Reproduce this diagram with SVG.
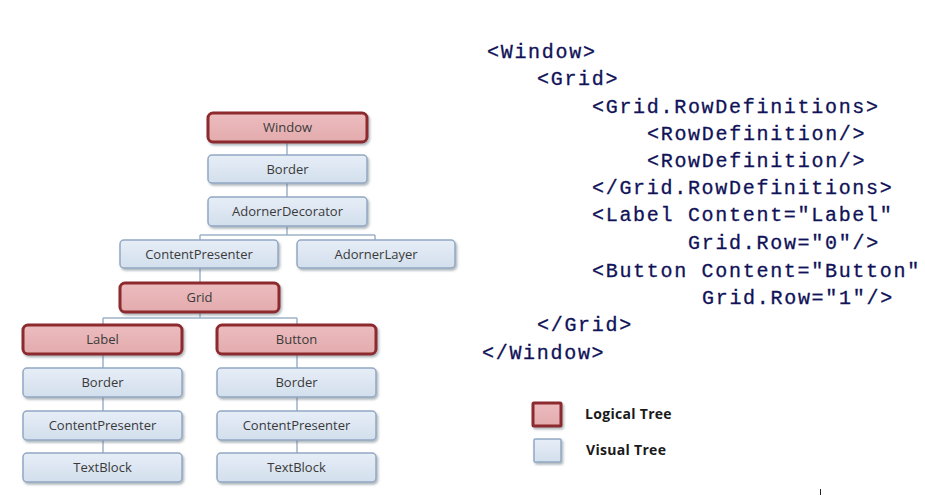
<svg xmlns="http://www.w3.org/2000/svg" width="925" height="495" viewBox="0 0 925 495">
<defs>
<linearGradient id="gv" x1="0" y1="0" x2="0" y2="1">
<stop offset="0" stop-color="#e6edf7"/>
<stop offset="1" stop-color="#d3dfed"/>
</linearGradient>
<linearGradient id="gl" x1="0" y1="0" x2="0" y2="1">
<stop offset="0" stop-color="#ecbcbe"/>
<stop offset="1" stop-color="#e3abae"/>
</linearGradient>
<filter id="sh" x="-10%" y="-20%" width="125%" height="150%">
<feDropShadow dx="1.5" dy="2" stdDeviation="1" flood-color="#506070" flood-opacity="0.45"/>
</filter>
</defs>
<style>
.v{fill:url(#gv);stroke:#93a8c3;stroke-width:1.5;filter:url(#sh)}
.l{fill:url(#gl);stroke:#8c292d;stroke-width:3;filter:url(#sh)}
.t{font-family:"Open Sans","Liberation Sans",sans-serif;font-size:13px;fill:#3a3a3a;text-anchor:middle}
.c{fill:none;stroke:#9fb2c8;stroke-width:1.5}
.code{font-family:"Liberation Mono","DejaVu Sans Mono",monospace;font-size:20px;letter-spacing:1.7px;fill:#101258;stroke:#101258;stroke-width:0.3}
.lg{font-family:"Open Sans","Liberation Sans",sans-serif;font-size:14px;font-weight:bold;letter-spacing:0.3px;fill:#1a1a1a}
</style>
<rect width="925" height="495" fill="#ffffff"/>
<g id="connectors">
<path class="c" d="M287 142V155M287 183V197M287 227V235M200 235H375M200 235V240M375 235V240M200 268V282M200 312V318M103 318H297M103 318V324M297 318V324M103 355V368M103 397V411M103 440V453M297 355V368M297 397V411M297 440V453"/>
</g>
<g id="n-window"><rect class="l" x="208" y="113" width="159" height="29" rx="5"/><text class="t" x="287.5" y="132">Window</text></g>
<g id="n-border"><rect class="v" x="208" y="155" width="159" height="28" rx="4"/><text class="t" x="287.5" y="173.5">Border</text></g>
<g id="n-adornerdecorator"><rect class="v" x="208" y="197" width="159" height="29" rx="4"/><text class="t" x="287.5" y="216">AdornerDecorator</text></g>
<g id="n-contentpresenter"><rect class="v" x="120" y="240" width="158" height="28" rx="4"/><text class="t" x="199" y="258.5">ContentPresenter</text></g>
<g id="n-adornerlayer"><rect class="v" x="297" y="240" width="158" height="28" rx="4"/><text class="t" x="376" y="258.5">AdornerLayer</text></g>
<g id="n-grid"><rect class="l" x="120" y="283" width="159" height="29" rx="5"/><text class="t" x="199.5" y="302">Grid</text></g>
<g id="n-label"><rect class="l" x="23" y="325" width="159" height="29" rx="5"/><text class="t" x="102.5" y="344">Label</text></g>
<g id="n-button"><rect class="l" x="217" y="325" width="159" height="29" rx="5"/><text class="t" x="296.5" y="344">Button</text></g>
<g id="n-border-l"><rect class="v" x="23" y="368" width="159" height="29" rx="4"/><text class="t" x="102.5" y="387">Border</text></g>
<g id="n-border-r"><rect class="v" x="217" y="368" width="159" height="29" rx="4"/><text class="t" x="296.5" y="387">Border</text></g>
<g id="n-cp-l"><rect class="v" x="23" y="411" width="159" height="29" rx="4"/><text class="t" x="102.5" y="430">ContentPresenter</text></g>
<g id="n-cp-r"><rect class="v" x="217" y="411" width="159" height="29" rx="4"/><text class="t" x="296.5" y="430">ContentPresenter</text></g>
<g id="n-tb-l"><rect class="v" x="23" y="453" width="159" height="29" rx="4"/><text class="t" x="102.5" y="472">TextBlock</text></g>
<g id="n-tb-r"><rect class="v" x="217" y="453" width="159" height="29" rx="4"/><text class="t" x="296.5" y="472">TextBlock</text></g>
<g id="code">
<text class="code" x="487" y="58">&lt;Window&gt;</text>
<text class="code" x="537" y="85">&lt;Grid&gt;</text>
<text class="code" x="592" y="113">&lt;Grid.RowDefinitions&gt;</text>
<text class="code" x="647" y="140">&lt;RowDefinition/&gt;</text>
<text class="code" x="647" y="167">&lt;RowDefinition/&gt;</text>
<text class="code" x="592" y="194">&lt;/Grid.RowDefinitions&gt;</text>
<text class="code" x="592" y="221">&lt;Label Content="Label"</text>
<text class="code" x="688" y="249">Grid.Row="0"/&gt;</text>
<text class="code" x="592" y="277">&lt;Button Content="Button"</text>
<text class="code" x="702" y="304">Grid.Row="1"/&gt;</text>
<text class="code" x="537" y="331">&lt;/Grid&gt;</text>
<text class="code" x="482" y="359">&lt;/Window&gt;</text>
</g>
<g id="legend">
<rect class="l" x="533" y="403" width="28" height="23" rx="1"/>
<text class="lg" x="585" y="419">Logical Tree</text>
<rect class="v" x="534" y="439" width="27" height="23" rx="1"/>
<text class="lg" x="586" y="455">Visual Tree</text>
</g>
<line x1="820.5" y1="489" x2="820.5" y2="495" stroke="#222" stroke-width="1"/>
</svg>
